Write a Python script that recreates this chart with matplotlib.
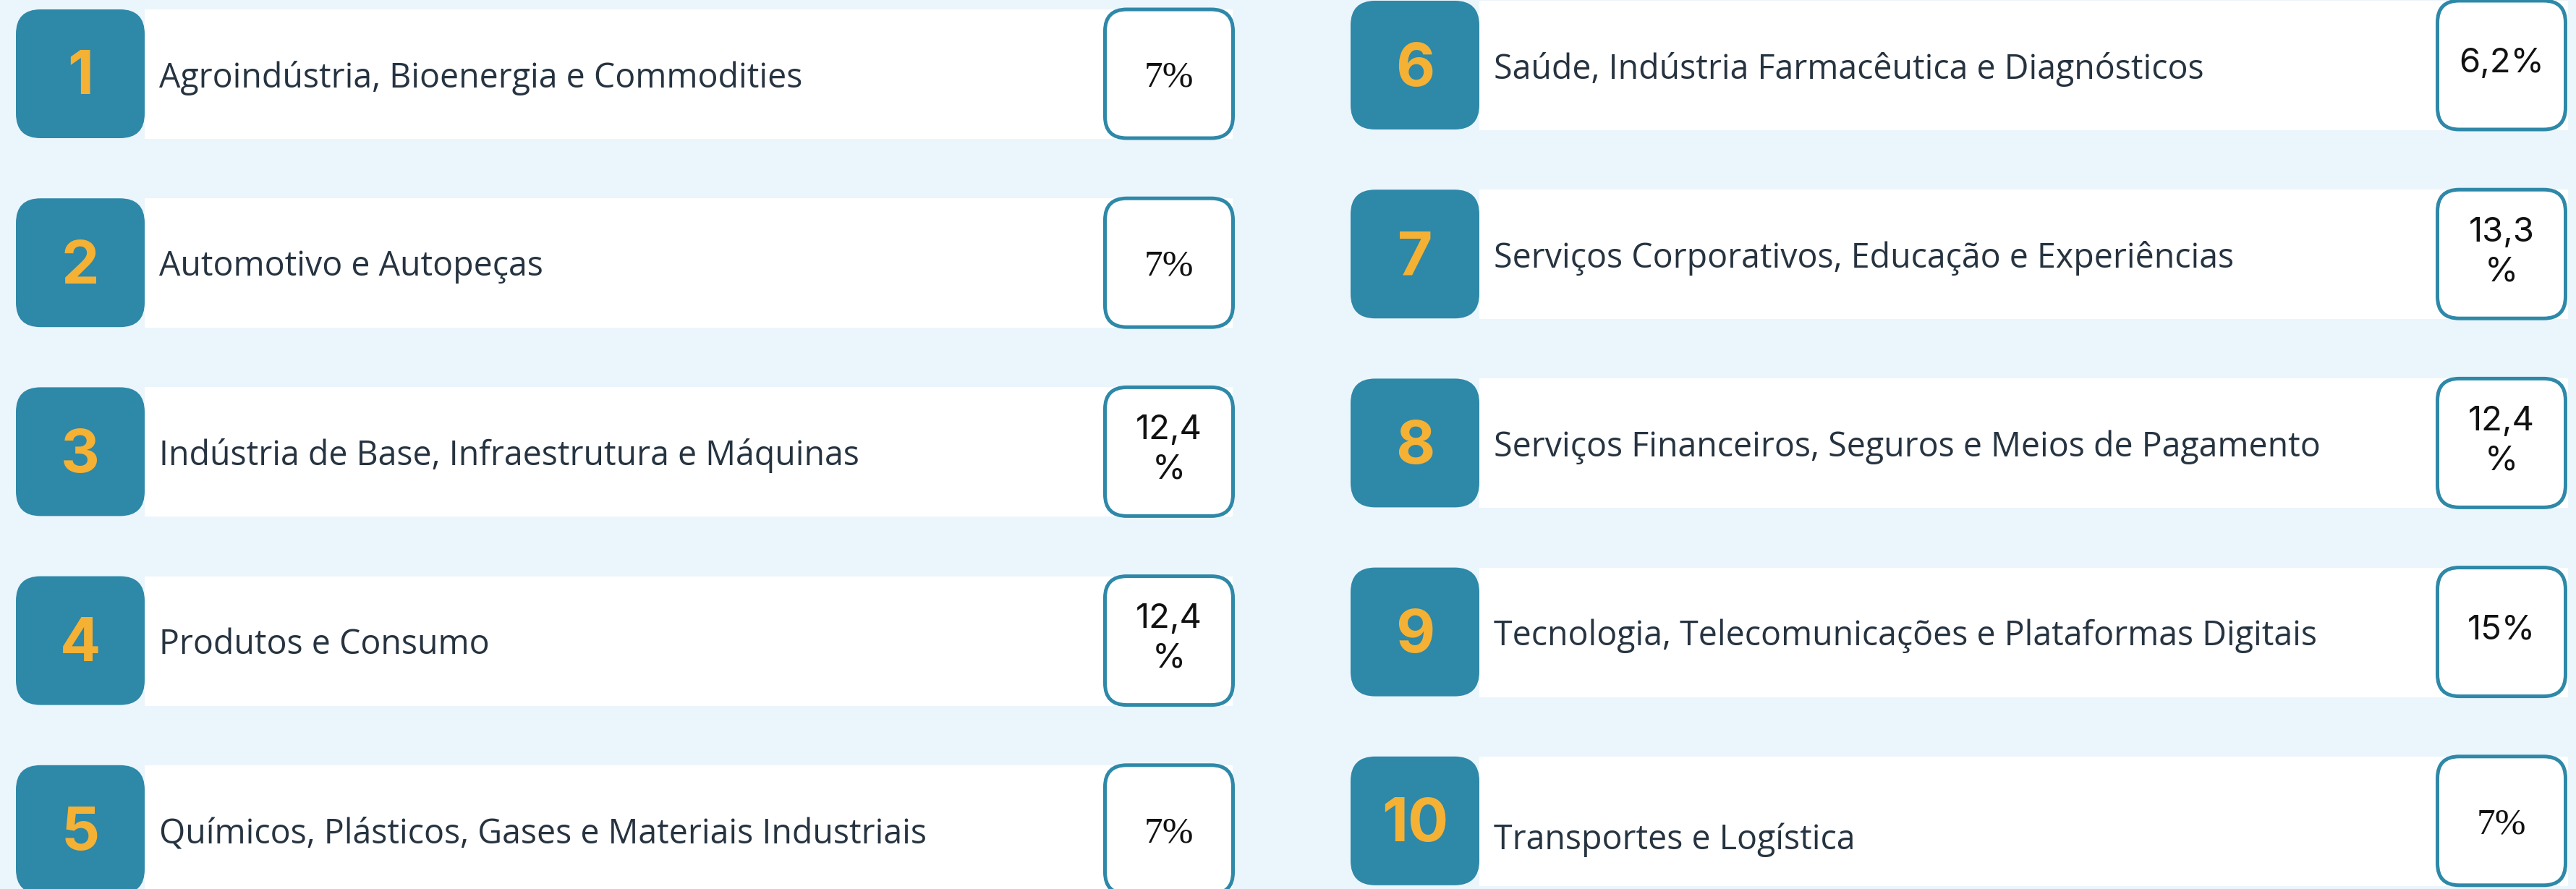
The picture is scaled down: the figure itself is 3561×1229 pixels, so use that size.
import matplotlib
matplotlib.use("Agg")
import matplotlib.pyplot as plt
from matplotlib.patches import FancyBboxPatch, Rectangle

# ---------------- data ----------------
numbers = [1, 2, 3, 4, 5, 6, 7, 8, 9, 10]
categories = [
    "Agroindústria, Bioenergia e Commodities",
    "Automotivo e Autopeças",
    "Indústria de Base, Infraestrutura e Máquinas",
    "Produtos e Consumo",
    "Químicos, Plásticos, Gases e Materiais Industriais",
    "Saúde, Indústria Farmacêutica e Diagnósticos",
    "Serviços Corporativos, Educação e Experiências",
    "Serviços Financeiros, Seguros e Meios de Pagamento",
    "Tecnologia, Telecomunicações e Plataformas Digitais",
    "Transportes e Logística",
]
shares = [7, 7, 12.4, 12.4, 7, 6.2, 13.3, 12.4, 15, 7]

# ---------------- style ----------------
pct_serif = [True, True, False, False, True, False, False, False, False, True]
label_dy = [0, 0, 0, 0, 0, 0, 0, 0, 0, 21]

BG = "#EBF5FC"
TEAL = "#2E88A8"
GOLD = "#F5B133"
TXT = "#263340"

W, H = 3561, 1229
fig = plt.figure(figsize=(W / 100, H / 100), dpi=100)
fig.patch.set_facecolor(BG)
ax = fig.add_axes([0, 0, 1, 1])
ax.set_xlim(0, W)
ax.set_ylim(H, 0)
ax.axis("off")
ax.set_facecolor(BG)

# column geometry (pixels)
cols = [
    dict(nx=22, bx1=1704, px=1525, top0=13),
    dict(nx=1867, bx1=3550, px=3367, top0=1),
]
pitch = 261.2
nbw = 178      # number box width
rh = 178       # row height
pbw = 182      # percent box width
pbh = 183      # percent box height


def fmt_share(v):
    s = f"{v:g}".replace(".", ",")
    if len(s) >= 4:
        return s + "\n%"
    return s + "%"


for i, (num, cat, val) in enumerate(zip(numbers, categories, shares)):
    c = cols[i // 5]
    r = i % 5
    top = c["top0"] + r * pitch
    cy = top + rh / 2

    # white bar
    ax.add_patch(Rectangle((c["nx"] + nbw, top), c["bx1"] - c["nx"] - nbw, rh + 1,
                           facecolor="white", edgecolor="none", zorder=1))
    # number box
    ax.add_patch(FancyBboxPatch((c["nx"], top), nbw, rh,
                                boxstyle="round,pad=0,rounding_size=34",
                                facecolor=TEAL, edgecolor="none", zorder=2))
    ax.text(c["nx"] + nbw / 2, cy - 2, str(num), ha="center", va="center_baseline",
            fontsize=60, fontweight="bold", family="Inter", color=GOLD, zorder=3)

    # category label
    ax.text(c["nx"] + nbw + 20, cy + label_dy[i], cat, ha="left", va="center_baseline",
            fontsize=33.5, family="Open Sans", color=TXT, zorder=3)

    # percent box
    pt = cy - pbh / 2
    ax.add_patch(FancyBboxPatch((c["px"] + 2.5, pt + 2.5), pbw - 5, pbh - 5,
                                boxstyle="round,pad=0,rounding_size=30",
                                facecolor="white", edgecolor=TEAL, linewidth=3.6,
                                zorder=2))
    s = fmt_share(val)
    if pct_serif[i]:
        ax.text(c["px"] + pbw / 2, cy, s, ha="center", va="center_baseline",
                fontsize=37, family="Liberation Serif", color="#111111", zorder=3)
    else:
        ax.text(c["px"] + pbw / 2, cy - 2, s, ha="center", va="center", multialignment="center",
                fontsize=34, family="Inter", color="#111111", linespacing=1.3, zorder=3)

fig.savefig("out.png", dpi=100, facecolor=BG)
